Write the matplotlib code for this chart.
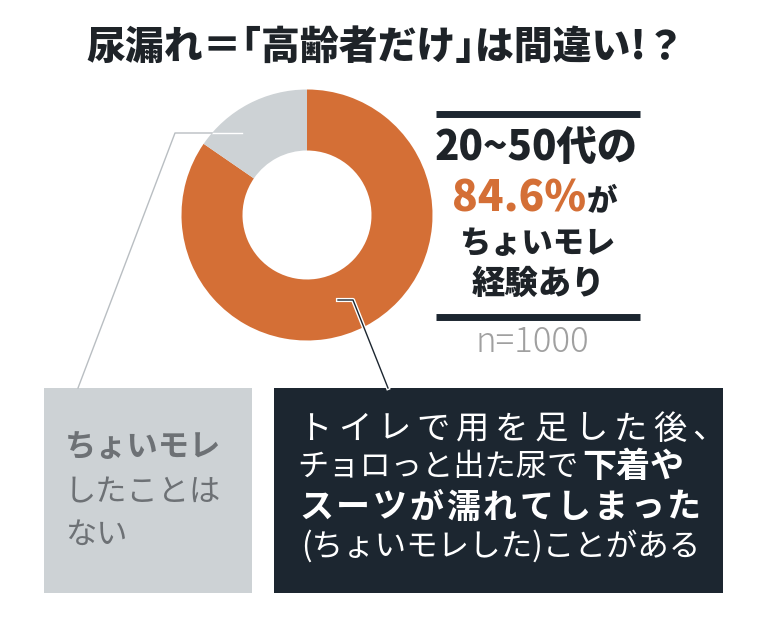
import matplotlib.pyplot as plt
import matplotlib.patheffects as pe
from matplotlib.patches import Rectangle

plt.rcParams['font.family'] = ['Noto Sans CJK JP', 'DejaVu Sans']

# データ
ラベル = ['ちょいモレ経験あり', 'ちょいモレしたことはない']
割合 = [84.6, 15.4]
色 = ['#d46f36', '#cdd2d5']

タイトル = '尿漏れ＝｢高齢者だけ｣は間違い!？'
年代 = '20~50代の'
割合テキスト = '84.6%'
サンプル = 'n=1000'

濃紺 = '#1c2630'
文字色 = '#1e2328'

fig = plt.figure(figsize=(7.68, 6.21), dpi=100)
ax = fig.add_axes([0, 0, 1, 1])

# ドーナツ（y軸を反転するので startangle=270 が上、反時計回り＝画面上は時計回り）
ax.pie(割合, colors=色, startangle=270, counterclock=True,
       center=(307, 215), radius=125.5,
       wedgeprops=dict(width=61, linewidth=0))

ax.set_xlim(0, 768)
ax.set_ylim(621, 0)
ax.set_aspect('equal')
ax.axis('off')

# タイトル
ax.text(386, 47, タイトル, ha='center', va='center', fontsize=28,
        fontweight='heavy', color=文字色)

# 右側のまとめ
ax.plot([436, 640], [114, 114], color=濃紺, lw=5, solid_capstyle='butt')
ax.plot([436, 640], [316.5, 316.5], color=濃紺, lw=5, solid_capstyle='butt')
ax.text(536, 148, 年代, ha='center', va='center', fontsize=29,
        fontweight='heavy', color=文字色)
ax.text(586, 199, 割合テキスト, ha='right', va='center', fontsize=30.5,
        fontweight='heavy', color=色[0])
ax.text(587, 201, 'が', ha='left', va='center', fontsize=22,
        fontweight='heavy', color=文字色)
ax.text(538, 243, 'ちょいモレ', ha='center', va='center', fontsize=22.5,
        fontweight='heavy', color=文字色)
ax.text(538, 283, '経験あり', ha='center', va='center', fontsize=24,
        fontweight='heavy', color=文字色)
ax.text(532, 342, サンプル, ha='center', va='center', fontsize=25,
        fontweight='light', color='#a0a0a0')

# 引き出し線
ax.plot([242, 212], [133, 133], color='white', lw=1)
ax.plot([212, 175, 78], [133, 133, 388], color='#b9bec2', lw=1)
ax.plot([338, 353, 388], [300, 300, 388], color=濃紺, lw=1,
        path_effects=[pe.withStroke(linewidth=3, foreground='white')])

# 下のボックス
ax.add_patch(Rectangle((44, 388), 208, 205, facecolor=色[1], edgecolor='none'))
ax.add_patch(Rectangle((274, 388), 449, 205, facecolor=濃紺, edgecolor='none'))

灰文字 = '#6d7175'
ax.text(65, 447, 'ちょいモレ', ha='left', va='center', fontsize=22.5,
        fontweight='bold', color=灰文字)
ax.text(65, 492, 'したことは', ha='left', va='center', fontsize=22.5,
        color=灰文字)
ax.text(65, 535, 'ない', ha='left', va='center', fontsize=22.5,
        color=灰文字)


def 字間テキスト(s, x0, pitch, y, **kw):
    for i, c in enumerate(s):
        ax.text(x0 + i * pitch, y, c, ha='center', va='center', **kw)


字間テキスト('トイレで用を足した後、', 315, 39.4, 429, fontsize=24, color='white')
ax.text(579, 467, 'チョロっと出た尿で', ha='right', va='center', fontsize=22.5,
        color='white')
ax.text(582, 467, '下着や', ha='left', va='center', fontsize=24.5,
        fontweight='bold', color='white')
字間テキスト('スーツが濡れてしまった', 316, 36.8, 507, fontsize=24.5,
        fontweight='bold', color='white')
ax.text(501, 546, '(ちょいモレした)ことがある', ha='center', va='center',
        fontsize=22.7, color='white')

fig.savefig('out.png', dpi=100)
